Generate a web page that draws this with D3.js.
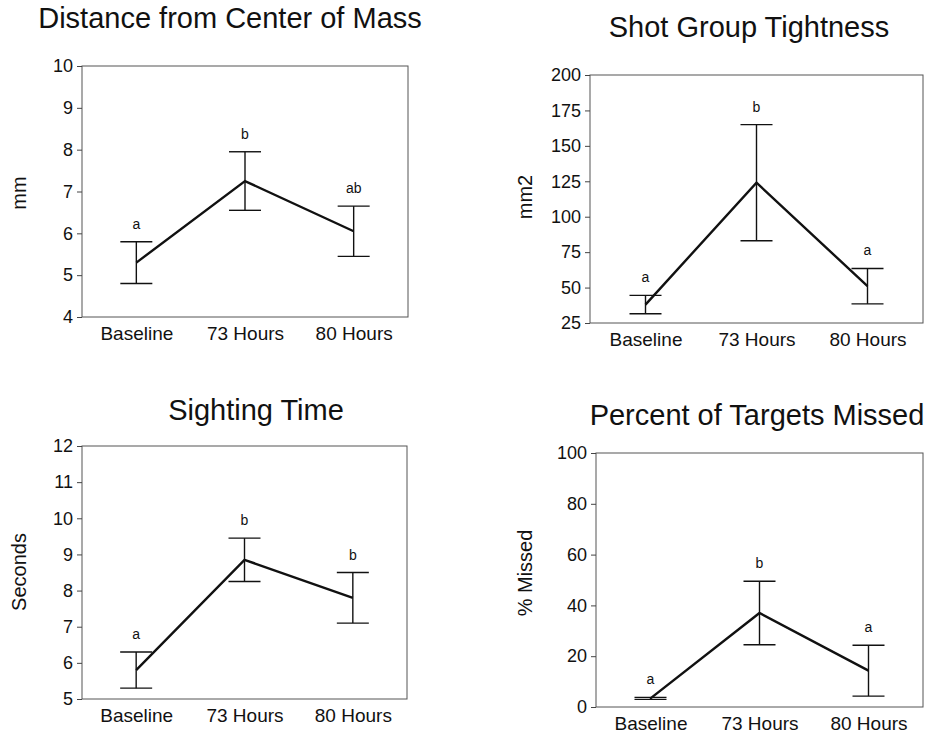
<!DOCTYPE html>
<html>
<head>
<meta charset="utf-8">
<script src="https://cdn.jsdelivr.net/npm/d3@7"></script>
<style>
  body { margin: 0; background: #fff; }
  svg text { font-family: "Liberation Sans", Arial, sans-serif; fill: #111; }
</style>
</head>
<body>
<div id="chart"></div>
<script>
// categories shared by all four panels
var groups = ["Baseline", "73 Hours", "80 Hours"];

// Distance from Center of Mass (mm)
var distMean = [5.3, 7.25, 6.05];
var distErr = [0.5, 0.7, 0.6];
var distLetters = ["a", "b", "ab"];
var distTicks = [4, 5, 6, 7, 8, 9, 10];

// Shot Group Tightness (mm2)
var shotMean = [38, 124, 51];
var shotErr = [6.5, 41, 12.5];
var shotLetters = ["a", "b", "a"];
var shotTicks = [25, 50, 75, 100, 125, 150, 175, 200];

// Sighting Time (seconds)
var sightMean = [5.8, 8.85, 7.8];
var sightErr = [0.5, 0.6, 0.7];
var sightLetters = ["a", "b", "b"];
var sightTicks = [5, 6, 7, 8, 9, 10, 11, 12];

// Percent of Targets Missed
var missMean = [3.4, 37, 14.3];
var missErr = [0.4, 12.5, 10];
var missLetters = ["a", "b", "a"];
var missTicks = [0, 20, 40, 60, 80, 100];

var svg = d3.select("#chart").append("svg")
    .attr("width", 930)
    .attr("height", 736);

var panels = [
  {title: "Distance from Center of Mass", ylab: "mm", mean: distMean, err: distErr, letters: distLetters, ticks: distTicks,
   x0: 82, x1: 408, y0: 66, y1: 317, tx: 230, ty: 28, lx: 26, ly: 193},
  {title: "Shot Group Tightness", ylab: "mm2", mean: shotMean, err: shotErr, letters: shotLetters, ticks: shotTicks,
   x0: 590, x1: 923, y0: 75, y1: 323, tx: 749, ty: 37, lx: 532, ly: 197},
  {title: "Sighting Time", ylab: "Seconds", mean: sightMean, err: sightErr, letters: sightLetters, ticks: sightTicks,
   x0: 82, x1: 407, y0: 446, y1: 699, tx: 256, ty: 420, lx: 26, ly: 572},
  {title: "Percent of Targets Missed", ylab: "% Missed", mean: missMean, err: missErr, letters: missLetters, ticks: missTicks,
   x0: 596, x1: 923, y0: 453, y1: 707, tx: 757, ty: 425, lx: 532, ly: 573}
];

panels.forEach(function(p) {
  var g = svg.append("g");

  var x = d3.scalePoint()
      .domain(groups)
      .range([p.x0, p.x1])
      .padding(0.5);

  var y = d3.scaleLinear()
      .domain(d3.extent(p.ticks))
      .range([p.y1, p.y0]);

  // frame
  g.append("rect")
      .attr("x", p.x0).attr("y", p.y0)
      .attr("width", p.x1 - p.x0).attr("height", p.y1 - p.y0)
      .attr("fill", "none")
      .attr("stroke", "#555")
      .attr("stroke-width", 1);

  // y axis
  var yAxis = g.append("g")
      .attr("transform", "translate(" + p.x0 + ",0)")
      .call(d3.axisLeft(y).tickValues(p.ticks).tickFormat(d3.format("d")).tickSize(5).tickPadding(4));
  yAxis.select(".domain").remove();
  yAxis.selectAll("line").attr("stroke", "#444");
  yAxis.selectAll("text").style("font-size", "18px").attr("fill", "#111");

  // x axis
  var xAxis = g.append("g")
      .attr("transform", "translate(0," + p.y1 + ")")
      .call(d3.axisBottom(x).tickSize(0).tickPadding(10));
  xAxis.select(".domain").remove();
  xAxis.selectAll("text").style("font-size", "19px").attr("fill", "#111");

  // title
  g.append("text")
      .attr("x", p.tx).attr("y", p.ty)
      .attr("text-anchor", "middle")
      .style("font-size", "29px")
      .text(p.title);

  // y label
  g.append("text")
      .attr("transform", "translate(" + p.lx + "," + p.ly + ") rotate(-90)")
      .attr("text-anchor", "middle")
      .style("font-size", "20px")
      .text(p.ylab);

  var rows = groups.map(function(d, i) {
    return {group: d, mean: p.mean[i], err: p.err[i], letter: p.letters[i]};
  });

  // error bars
  var eb = g.selectAll(".eb").data(rows).enter().append("g")
      .attr("stroke", "#111")
      .attr("stroke-width", 1.4);
  eb.append("line")
      .attr("x1", function(d) { return x(d.group); })
      .attr("x2", function(d) { return x(d.group); })
      .attr("y1", function(d) { return y(d.mean - d.err); })
      .attr("y2", function(d) { return y(d.mean + d.err); });
  eb.append("line")
      .attr("x1", function(d) { return x(d.group) - 16; })
      .attr("x2", function(d) { return x(d.group) + 16; })
      .attr("y1", function(d) { return y(d.mean + d.err); })
      .attr("y2", function(d) { return y(d.mean + d.err); });
  eb.append("line")
      .attr("x1", function(d) { return x(d.group) - 16; })
      .attr("x2", function(d) { return x(d.group) + 16; })
      .attr("y1", function(d) { return y(d.mean - d.err); })
      .attr("y2", function(d) { return y(d.mean - d.err); });

  // mean line
  var line = d3.line()
      .x(function(d) { return x(d.group); })
      .y(function(d) { return y(d.mean); });
  g.append("path")
      .attr("d", line(rows))
      .attr("fill", "none")
      .attr("stroke", "#111")
      .attr("stroke-width", 2.4)
      .attr("stroke-linejoin", "miter");

  // significance letters
  g.selectAll(".sig").data(rows).enter().append("text")
      .attr("x", function(d) { return x(d.group); })
      .attr("y", function(d) { return y(d.mean + d.err) - 13; })
      .attr("text-anchor", "middle")
      .style("font-size", "14px")
      .text(function(d) { return d.letter; });
});
</script>
</body>
</html>
